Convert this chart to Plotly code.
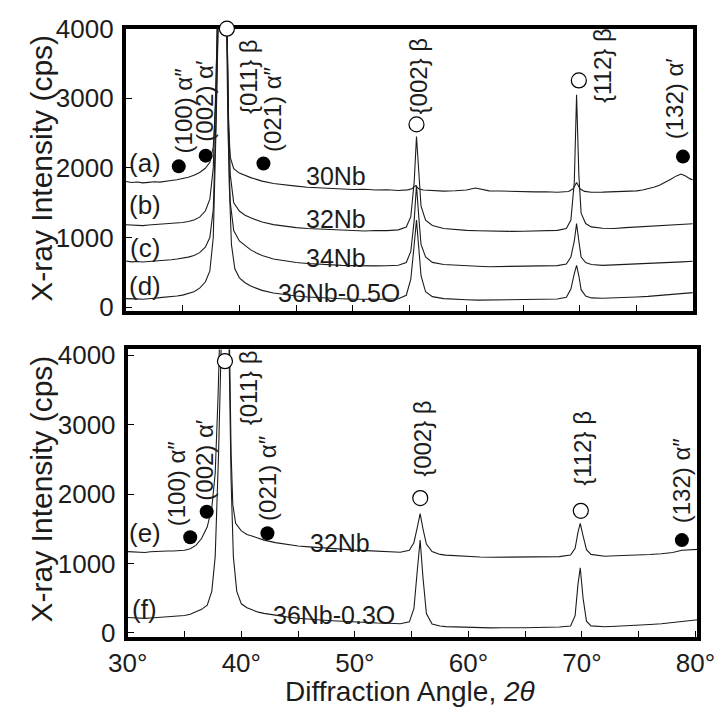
import plotly.graph_objects as go

# ---- diffraction patterns (2theta in degrees, intensity in cps) ----
# upper panel
A_30NB = [(30,1805),(30.5,1790),(31,1798),(31.5,1785),(32,1792),(32.5,1800),(33,1795),(33.5,1812),(34,1818),(34.5,1830),(35,1848),(35.5,1865),(36,1895),(36.5,1935),(37,1995),(37.4,2080),(37.7,2300),(37.9,2900),(38.05,4000),(38.5,7000),(38.9,4000),(39.05,2600),(39.2,2150),(39.5,1990),(40,1925),(40.5,1890),(41,1860),(41.5,1835),(42,1810),(43,1775),(44,1752),(45,1738),(46,1722),(47,1715),(48,1702),(49,1698),(50,1690),(51,1694),(52,1682),(53,1686),(54,1676),(54.8,1684),(55.2,1700),(55.5,1745),(55.8,1700),(56.2,1682),(57,1672),(58,1666),(59,1672),(60,1682),(60.8,1712),(61.5,1684),(62,1670),(63,1667),(64,1660),(65,1663),(66,1655),(67,1658),(68,1650),(69,1660),(69.4,1700),(69.7,1790),(70.0,1700),(70.4,1662),(71,1650),(72,1652),(73,1655),(74,1662),(75,1670),(75.5,1682),(76,1698),(76.5,1722),(77,1750),(77.5,1790),(78,1838),(78.5,1885),(78.9,1912),(79.3,1882),(79.7,1842),(80.2,1812)]
B_32NB = [(30,1182),(30.5,1175),(31,1178),(31.5,1170),(32,1180),(32.5,1186),(33,1190),(33.5,1196),(34,1200),(34.5,1206),(35,1216),(35.5,1230),(36,1252),(36.5,1292),(37,1380),(37.4,1550),(37.7,2000),(37.95,3300),(38.1,4300),(38.5,7500),(38.9,4200),(39.05,2700),(39.2,1900),(39.5,1500),(40,1380),(40.5,1320),(41,1282),(41.5,1248),(42,1222),(43,1185),(44,1160),(45,1142),(46,1130),(47,1122),(48,1110),(49,1104),(50,1100),(51,1094),(52,1100),(53,1098),(54,1110),(54.7,1150),(55.1,1300),(55.4,1800),(55.6,2450),(55.8,1900),(56.0,1450),(56.4,1250),(57,1172),(58,1130),(59,1112),(60,1102),(61,1096),(62,1090),(63,1086),(64,1088),(65,1090),(66,1092),(67,1096),(68,1102),(68.8,1130),(69.2,1250),(69.5,1800),(69.7,3050),(69.9,1900),(70.1,1350),(70.5,1200),(71,1152),(72,1132),(73,1130),(74,1142),(75,1150),(76,1162),(77,1170),(78,1182),(79,1190),(80.2,1200)]
C_34NB = [(30,662),(30.5,650),(31,655),(31.5,648),(32,656),(32.5,660),(33,666),(33.5,672),(34,680),(34.5,690),(35,702),(35.5,718),(36,742),(36.5,782),(37,860),(37.4,1000),(37.7,1400),(37.95,2800),(38.15,4300),(38.5,7000),(38.85,4300),(39.0,2500),(39.2,1500),(39.5,1100),(40,950),(40.5,880),(41,822),(41.5,778),(42,742),(43,692),(44,662),(45,640),(46,626),(47,614),(48,606),(49,600),(50,596),(51,590),(52,592),(53,594),(54,602),(54.7,640),(55.1,800),(55.4,1250),(55.6,1750),(55.8,1300),(56.0,900),(56.4,720),(57,642),(58,612),(59,600),(60,592),(61,586),(62,580),(63,582),(64,580),(65,586),(66,584),(67,590),(68,596),(68.8,620),(69.2,720),(69.5,950),(69.7,1200),(69.9,950),(70.1,720),(70.5,640),(71,612),(72,600),(73,606),(74,610),(75,618),(76,624),(77,636),(78,642),(79,650),(80.2,662)]
D_36NB_05O = [(30,122),(30.5,115),(31,118),(31.5,112),(32,125),(32.5,128),(33,136),(33.5,142),(34,150),(34.5,160),(35,172),(35.5,192),(36,220),(36.5,272),(37,360),(37.4,520),(37.7,1000),(37.95,2600),(38.2,4300),(38.5,7000),(38.9,4300),(39.1,1800),(39.3,900),(39.6,550),(40,420),(40.5,350),(41,302),(41.5,268),(42,240),(43,202),(44,176),(45,160),(46,146),(47,134),(48,126),(49,120),(50,114),(51,110),(52,112),(53,114),(54,120),(54.7,170),(55.1,400),(55.4,900),(55.6,1250),(55.8,850),(56.0,450),(56.4,220),(57,150),(58,122),(59,110),(60,106),(61,100),(62,102),(63,98),(64,100),(65,106),(66,108),(67,112),(68,116),(68.8,140),(69.2,260),(69.5,480),(69.7,600),(69.9,450),(70.1,250),(70.5,160),(71,132),(72,126),(73,130),(74,136),(75,146),(76,154),(77,166),(78,180),(79,196),(80.2,212)]
# lower panel
E_32NB = [(30,1172),(30.5,1165),(31,1168),(31.5,1160),(32,1170),(32.5,1176),(33,1175),(33.5,1182),(34,1180),(34.5,1188),(35,1192),(35.5,1212),(36,1262),(36.5,1360),(37,1530),(37.4,1800),(37.7,2300),(37.95,3400),(38.15,4300),(38.55,7000),(38.95,4300),(39.1,2600),(39.25,1850),(39.5,1580),(40,1470),(40.5,1420),(41,1392),(41.5,1362),(42,1338),(43,1302),(44,1278),(45,1252),(46,1240),(47,1226),(48,1214),(49,1206),(50,1194),(51,1186),(52,1176),(53,1166),(54,1162),(54.8,1190),(55.2,1300),(55.5,1520),(55.75,1720),(56.0,1500),(56.3,1280),(56.8,1172),(57.5,1132),(58,1122),(59,1110),(60,1102),(61,1094),(62,1090),(63,1092),(64,1086),(65,1088),(66,1090),(67,1096),(68,1100),(69,1122),(69.4,1220),(69.65,1450),(69.85,1580),(70.1,1400),(70.4,1200),(70.8,1132),(71.5,1112),(72,1106),(73,1112),(74,1116),(75,1122),(76,1130),(77,1142),(78,1160),(78.8,1192),(79.5,1200),(80.2,1204)]
F_36NB_03O = [(30,222),(30.5,215),(31,218),(31.5,210),(32,216),(32.5,222),(33,220),(33.5,228),(34,232),(34.5,240),(35,252),(35.5,270),(36,300),(36.5,340),(37,400),(37.4,600),(37.7,1100),(38.0,2600),(38.25,4300),(38.55,7000),(38.9,4300),(39.1,2200),(39.3,1100),(39.6,600),(40,420),(40.5,365),(41,330),(41.5,300),(42,282),(43,252),(44,232),(45,212),(46,196),(47,186),(48,176),(49,166),(50,156),(51,150),(52,144),(53,140),(54,134),(54.8,160),(55.2,350),(55.5,900),(55.75,1340),(56.0,800),(56.3,280),(56.8,130),(57.5,100),(58,92),(59,86),(60,80),(61,78),(62,74),(63,76),(64,72),(65,76),(66,80),(67,82),(68,86),(69,100),(69.4,250),(69.65,700),(69.85,940),(70.1,500),(70.4,170),(70.8,102),(71.5,92),(72,90),(73,96),(74,102),(75,110),(76,122),(77,134),(78,150),(79,168),(80.2,190)]

# ---- phase markers: filled = alpha'' martensite, open = beta ----
TOP_ALPHA_X = [34.66, 37.03, 42.12, 79.07]
TOP_ALPHA_Y = [2022, 2176, 2064, 2162]
TOP_BETA_X = [38.9, 55.6, 69.9]
TOP_BETA_Y = [4000, 2625, 3256]
BOT_ALPHA_X = [35.5, 36.95, 42.3, 78.8]
BOT_ALPHA_Y = [1380, 1746, 1437, 1338]
BOT_BETA_X = [38.56, 55.76, 69.9]
BOT_BETA_Y = [3915, 1944, 1760]

# ---- reflection labels (text, x centre, y of lower end) ----
TOP_PEAK_TEXT = ["(100) α″", "(002) α′", "{011} β", "(021) α″", "{002} β", "{112} β", "(132) α′"]
TOP_PEAK_X = [35.1, 36.95, 40.76, 42.9, 55.76, 72.0, 78.4]
TOP_PEAK_Y = [2176, 2345, 2737, 2204, 2737, 2906, 2387]
BOT_PEAK_TEXT = ["(100) α″", "(002) α′", "{011} β", "(021) α″", "{002} β", "{112} β", "(132) α″"]
BOT_PEAK_X = [34.24, 36.78, 40.6, 42.3, 55.9, 70.1, 78.8]
BOT_PEAK_Y = [1507, 1873, 2958, 1592, 2225, 2085, 1550]

# ---- sample tags and alloy names ----
TOP_TAGS = ["(a)", "(b)", "(c)", "(d)"]
TOP_TAG_Y = [2064, 1460, 843, 310]
BOT_TAGS = ["(e)", "(f)"]
BOT_TAG_Y = [1437, 352]
TOP_NAMES = ["30Nb", "32Nb", "34Nb", "36Nb-0.5O"]
TOP_NAME_X = [48.47, 48.47, 48.47, 48.8]
TOP_NAME_Y = [1881, 1264, 703, 198]
BOT_NAMES = ["32Nb", "36Nb-0.3O"]
BOT_NAME_X = [48.73, 48.2]
BOT_NAME_Y = [1296, 254]

# ---- axes ----
X_TICKS = [30, 35, 40, 45, 50, 55, 60, 65, 70, 75, 80]
X_TICK_TEXT = ["30°", "", "40°", "", "50°", "", "60°", "", "70°", "", "80°"]
Y_TICKS = [0, 1000, 2000, 3000, 4000]

FONT = "Liberation Sans, Arial, sans-serif"
INK = "#1c1c1c"

FIG_W, FIG_H = 728, 724
# the page adds a small body inset and the capture is slightly reduced;
# these helpers turn window pixel positions into paper fractions
OFF_X, OFF_Y, SCALE_X, SCALE_Y = 5.0, 8.0, 0.985, 0.986


def px_x(p):
    return ((p - OFF_X) / SCALE_X) / FIG_W


def px_y(p):
    return 1 - ((p - OFF_Y) / SCALE_Y) / FIG_H


fig = go.Figure()


def add_pattern(points, xa, ya):
    xs = [p[0] for p in points]
    ys = [p[1] for p in points]
    fig.add_trace(go.Scatter(x=xs, y=ys, mode="lines", xaxis=xa, yaxis=ya,
                             line=dict(color=INK, width=1.1), showlegend=False,
                             hoverinfo="skip"))


for pts in (A_30NB, B_32NB, C_34NB, D_36NB_05O):
    add_pattern(pts, "x", "y")
for pts in (E_32NB, F_36NB_03O):
    add_pattern(pts, "x2", "y2")


def add_markers(xs, ys, xa, ya, filled):
    fig.add_trace(go.Scatter(
        x=xs, y=ys, mode="markers", xaxis=xa, yaxis=ya, cliponaxis=False,
        marker=dict(size=14 if filled else 15,
                    color="black" if filled else "white",
                    line=dict(color="black", width=0 if filled else 1.2)),
        showlegend=False, hoverinfo="skip"))


add_markers(TOP_ALPHA_X, TOP_ALPHA_Y, "x", "y", True)
add_markers(TOP_BETA_X, TOP_BETA_Y, "x", "y", False)
add_markers(BOT_ALPHA_X, BOT_ALPHA_Y, "x2", "y2", True)
add_markers(BOT_BETA_X, BOT_BETA_Y, "x2", "y2", False)

annotations = []


def peak_labels(texts, xs, ys, xr, yr):
    for t, x, y in zip(texts, xs, ys):
        annotations.append(dict(text=t, x=x, y=y, xref=xr, yref=yr, textangle=-90,
                                xanchor="center", yanchor="bottom", showarrow=False,
                                font=dict(family=FONT, size=24, color=INK)))


peak_labels(TOP_PEAK_TEXT, TOP_PEAK_X, TOP_PEAK_Y, "x", "y")
peak_labels(BOT_PEAK_TEXT, BOT_PEAK_X, BOT_PEAK_Y, "x2", "y2")

for t, y in zip(TOP_TAGS, TOP_TAG_Y):
    annotations.append(dict(text=t, x=31.7, y=y, xref="x", yref="y", showarrow=False,
                            font=dict(family=FONT, size=26, color=INK)))
for t, y in zip(BOT_TAGS, BOT_TAG_Y):
    annotations.append(dict(text=t, x=31.5, y=y, xref="x2", yref="y2", showarrow=False,
                            font=dict(family=FONT, size=26, color=INK)))
for t, x, y in zip(TOP_NAMES, TOP_NAME_X, TOP_NAME_Y):
    annotations.append(dict(text=t, x=x, y=y, xref="x", yref="y", showarrow=False,
                            font=dict(family=FONT, size=25, color=INK)))
for t, x, y in zip(BOT_NAMES, BOT_NAME_X, BOT_NAME_Y):
    annotations.append(dict(text=t, x=x, y=y, xref="x2", yref="y2", showarrow=False,
                            font=dict(family=FONT, size=25, color=INK)))

# axis titles
for yc in (165, 493):
    annotations.append(dict(text="X-ray Intensity (cps)", x=px_x(27), y=px_y(yc),
                            xref="paper", yref="paper", textangle=-90, showarrow=False,
                            xanchor="center", yanchor="middle",
                            font=dict(family=FONT, size=30, color=INK)))
annotations.append(dict(text="Diffraction Angle, <i>2θ</i>", x=px_x(410), y=px_y(700),
                        xref="paper", yref="paper", showarrow=False,
                        xanchor="center", yanchor="middle",
                        font=dict(family=FONT, size=28, color=INK)))

axis_common = dict(showgrid=False, zeroline=False, showline=True, linecolor="black",
                   linewidth=4, mirror=True, ticks="inside", ticklen=6, tickwidth=1.2,
                   tickcolor="black", layer="below traces", ticklabeloverflow="allow",
                   tickfont=dict(family=FONT, size=26, color=INK))

fig.update_layout(
    width=FIG_W, height=FIG_H, margin=dict(l=0, r=0, t=0, b=0),
    paper_bgcolor="white", plot_bgcolor="white", showlegend=False,
    annotations=annotations,
    xaxis=dict(domain=[px_x(115), px_x(704)], range=[30, 79.92], anchor="y",
               tickvals=X_TICKS, showticklabels=False, **axis_common),
    yaxis=dict(domain=[px_y(311), px_y(22)], range=[-60, 4000], anchor="x",
               tickvals=Y_TICKS, ticklabelstandoff=3, **axis_common),
    xaxis2=dict(domain=[px_x(117), px_x(709)], range=[30, 80.17], anchor="y2",
                tickvals=X_TICKS, ticktext=X_TICK_TEXT, **axis_common),
    yaxis2=dict(domain=[px_y(644), px_y(350)], range=[-56, 4085], anchor="x2",
                tickvals=Y_TICKS, ticklabelstandoff=3, **axis_common),
)

fig.write_html("out.html")
